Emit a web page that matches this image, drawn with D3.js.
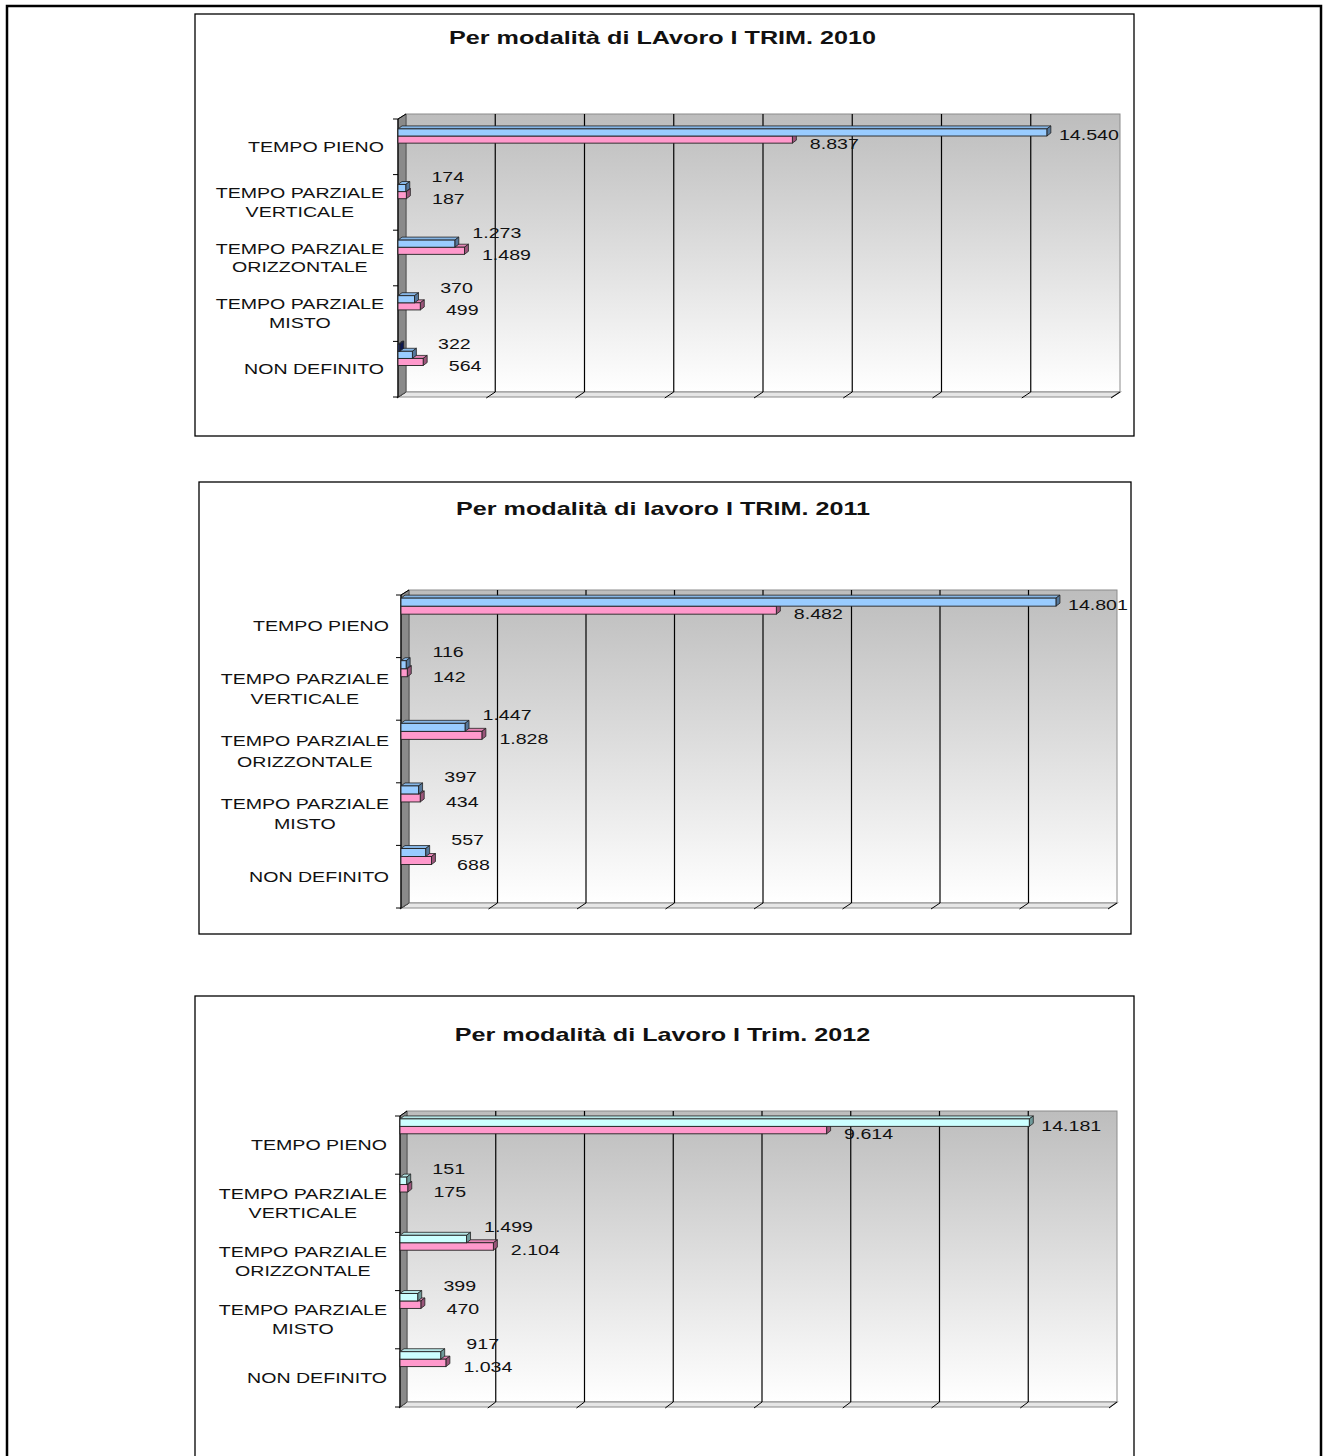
<!DOCTYPE html>
<html><head><meta charset="utf-8">
<script src="https://cdn.jsdelivr.net/npm/d3@7"></script>
<style>
body{margin:0;background:#fff}
svg{display:block}
text{font-family:"Liberation Sans",Arial,Helvetica,sans-serif;fill:#111}
</style>
</head><body>
<svg id="c" width="1324" height="1456"></svg>
<script>
// ---------- DATA ----------
const categories = ["TEMPO PIENO", "TEMPO PARZIALE VERTICALE", "TEMPO PARZIALE ORIZZONTALE", "TEMPO PARZIALE MISTO", "NON DEFINITO"];
const titles = ["Per modalità di LAvoro I TRIM. 2010", "Per modalità di lavoro I TRIM. 2011", "Per modalità di Lavoro I Trim. 2012"];
const valueTicks = [0, 2000, 4000, 6000, 8000, 10000, 12000, 14000, 16000];

const y2010_extra = [0, 0, 0, 0, 40];          // small unlabeled series (dark)
const y2010_a = [14540, 174, 1273, 370, 322];
const y2010_b = [8837, 187, 1489, 499, 564];
const y2011_a = [14801, 116, 1447, 397, 557];
const y2011_b = [8482, 142, 1828, 434, 688];
const y2012_a = [14181, 151, 1499, 399, 917];
const y2012_b = [9614, 175, 2104, 470, 1034];

// ---------- STYLE / LAYOUT ----------
const palette = {
  navy: {front: "#1a2f80", top: "#2a3f90", side: "#0b1650", label: false},
  blue: {front: "#99ccff", top: "#86b6e6", side: "#55779a", label: true},
  pink: {front: "#ff99cc", top: "#e686b6", side: "#9a557a", label: true},
  cyan: {front: "#ccffff", top: "#b6e6e6", side: "#6f9a9a", label: true}
};
const charts = [
  {title: titles[0], series: [{v: y2010_extra, c: "navy"}, {v: y2010_a, c: "blue"}, {v: y2010_b, c: "pink"}],
   frame: [195, 14, 939, 422], titleY: 44, x0: 398, x1: 1112, top: 119, floor: 397, dx: 8, dy: -5, labelRight: 384},
  {title: titles[1], series: [{v: y2011_a, c: "blue"}, {v: y2011_b, c: "pink"}],
   frame: [199, 482, 932, 452], titleY: 515, x0: 401, x1: 1109, top: 595, floor: 908, dx: 8, dy: -5, labelRight: 389},
  {title: titles[2], series: [{v: y2012_a, c: "cyan"}, {v: y2012_b, c: "pink"}],
   frame: [195, 996, 939, 480], titleY: 1041, x0: 400, x1: 1110, top: 1116, floor: 1407, dx: 7, dy: -5, labelRight: 387}
];
const SX = 1.4; // horizontal stretch of the original text
const it = d3.formatLocale({decimal: ",", thousands: ".", grouping: [3], currency: ["€", ""]});
const fmt = it.format(",d");

const svg = d3.select("#c");
const defs = svg.append("defs");
const grad = defs.append("linearGradient").attr("id", "wall").attr("x1", 0).attr("y1", 0).attr("x2", 0).attr("y2", 1);
grad.append("stop").attr("offset", "0%").attr("stop-color", "#bdbdbd");
grad.append("stop").attr("offset", "100%").attr("stop-color", "#ffffff");

// outer page frame
svg.append("rect").attr("x", 7).attr("y", 6).attr("width", 1314).attr("height", 1470)
  .attr("fill", "none").attr("stroke", "#000").attr("stroke-width", 2.5);

function sText(g, str, x, y, size, anchor, weight) {
  return g.append("text")
    .attr("transform", `translate(${x},${y}) scale(${SX},1)`)
    .attr("text-anchor", anchor || "start")
    .attr("font-size", size)
    .attr("font-weight", weight || "normal")
    .text(str);
}

charts.forEach(ch => {
  const g = svg.append("g");
  const [fx, fy, fw, fh] = ch.frame;
  g.append("rect").attr("x", fx).attr("y", fy).attr("width", fw).attr("height", fh)
    .attr("fill", "#fff").attr("stroke", "#000").attr("stroke-width", 1.3);

  sText(g, ch.title, fx + fw / 2 - 2, ch.titleY, 18, "middle", "bold");

  const x = d3.scaleLinear().domain([valueTicks[0], valueTicks[valueTicks.length - 1]]).range([ch.x0, ch.x1]);
  const y = d3.scaleBand().domain(categories).range([ch.top, ch.floor]).padding(0);
  const bw = y.bandwidth();
  const dx = ch.dx, dy = ch.dy;

  // back wall
  g.append("rect").attr("x", ch.x0 + dx).attr("y", ch.top + dy)
    .attr("width", ch.x1 - ch.x0).attr("height", ch.floor - ch.top)
    .attr("fill", "url(#wall)").attr("stroke", "#8c8c8c").attr("stroke-width", 1);
  // floor
  g.append("polygon")
    .attr("points", [[ch.x0, ch.floor], [ch.x0 + dx, ch.floor + dy], [ch.x1 + dx, ch.floor + dy], [ch.x1, ch.floor]].join(" "))
    .attr("fill", "#e6e6e6").attr("stroke", "#8c8c8c").attr("stroke-width", 1.2);
  // gridlines
  valueTicks.slice(1, -1).forEach(t => {
    g.append("line").attr("x1", x(t) + dx).attr("x2", x(t) + dx).attr("y1", ch.top + dy).attr("y2", ch.floor + dy)
      .attr("stroke", "#000").attr("stroke-width", 1.2);
  });
  valueTicks.forEach(t => {
    g.append("line").attr("x1", x(t) + dx).attr("y1", ch.floor + dy).attr("x2", x(t) - 1).attr("y2", ch.floor + 1)
      .attr("stroke", "#000").attr("stroke-width", 1);
  });
  // left side wall
  g.append("polygon")
    .attr("points", [[ch.x0, ch.top], [ch.x0 + dx, ch.top + dy], [ch.x0 + dx, ch.floor + dy], [ch.x0, ch.floor]].join(" "))
    .attr("fill", "#8a8a8a").attr("stroke", "#555").attr("stroke-width", 1);
  g.append("line").attr("x1", ch.x0).attr("x2", ch.x0).attr("y1", ch.top).attr("y2", ch.floor)
    .attr("stroke", "#000").attr("stroke-width", 1.2);
  g.append("line").attr("x1", ch.x0).attr("x2", ch.x0 + dx).attr("y1", ch.top).attr("y2", ch.top + dy)
    .attr("stroke", "#000").attr("stroke-width", 1);
  // category ticks
  categories.map(c => y(c)).concat([ch.floor]).forEach(v => {
    g.append("line").attr("x1", ch.x0 - 5).attr("x2", ch.x0).attr("y1", v).attr("y2", v)
      .attr("stroke", "#000").attr("stroke-width", 1);
  });

  // category labels
  const lh = 0.33 * bw;
  categories.forEach(c => {
    const lines = c.startsWith("TEMPO PARZIALE ") ? ["TEMPO PARZIALE", c.slice(15)] : [c];
    const cy = y(c) + bw / 2;
    const tmp = lines.map(l => sText(g, l, 0, 0, 14, "middle"));
    const maxW = d3.max(tmp, t => t.node().getComputedTextLength()) * SX;
    const cx = ch.labelRight - maxW / 2;
    tmp.forEach((t, i) => {
      const ly = cy + (i - (lines.length - 1) / 2) * lh + 5;
      t.attr("transform", `translate(${cx},${ly}) scale(${SX},1)`);
    });
  });

  // bars
  const slotH = 0.128 * bw, start = 0.05 * bw, bdx = 4, bdy = -3;
  const n = ch.series.length;
  const barG = g.append("g");
  // draw lower series first so upper bars overlap their top faces
  for (let si = n - 1; si >= 0; si--) {
    const s = ch.series[si], col = palette[s.c];
    s.v.forEach((v, i) => {
      if (v <= 0) return;
      const by = y(categories[i]) + start + si * slotH;
      const xe = x(v);
      barG.append("polygon")
        .attr("points", [[ch.x0, by], [ch.x0 + bdx, by + bdy], [xe + bdx, by + bdy], [xe, by]].join(" "))
        .attr("fill", col.top).attr("stroke", "#222").attr("stroke-width", 0.8);
      barG.append("polygon")
        .attr("points", [[xe, by], [xe + bdx, by + bdy], [xe + bdx, by + slotH + bdy], [xe, by + slotH]].join(" "))
        .attr("fill", col.side).attr("stroke", "#222").attr("stroke-width", 0.8);
      barG.append("rect").attr("x", ch.x0).attr("y", by).attr("width", xe - ch.x0).attr("height", slotH)
        .attr("fill", col.front).attr("stroke", "#222").attr("stroke-width", 0.9);
    });
  }

  // value labels
  const labeled = ch.series.filter(s => palette[s.c].label);
  const a = labeled[0].v, b = labeled[1].v;
  ch.series.forEach((s, si) => {
    if (!palette[s.c].label) return;
    s.v.forEach((v, i) => {
      const by = y(categories[i]) + start + si * slotH + slotH / 2;
      let off;
      if (s.v === a) off = a[i] >= b[i] ? 3 : -0.2 * bw;
      else off = 4;
      sText(g, fmt(v), x(v) + 42, by + off + 5, 14, "middle");
    });
  });
});
</script>
</body></html>
